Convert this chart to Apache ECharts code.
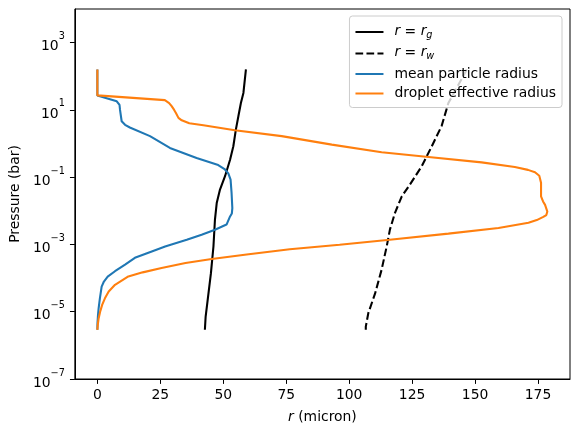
<!DOCTYPE html>
<html><head><meta charset="utf-8">
<script src="https://cdn.jsdelivr.net/npm/echarts@6/dist/echarts.min.js"></script>
<style>html,body{margin:0;padding:0;background:#fff}#c{width:578px;height:434px}</style>
</head><body><div id="c"></div>
<script>
// tick labels
const xTicks = [0, 25, 50, 75, 100, 125, 150, 175];
const yTicks = [1e-7, 1e-5, 1e-3, 1e-1, 1e1, 1e3];
const seriesNames = ['r = r_g', 'r = r_w', 'mean particle radius', 'droplet effective radius'];

// r = r_g (solid black)
const rgRadius   = [59.0, 58.0, 57.0, 56.0, 55.0, 54.0, 52.7, 50.7, 48.7, 47.4, 46.7, 46.1, 45.1, 43.8, 43.0, 42.7];
const rgPressure = [1.6e2, 3.2e1, 1.6e1, 6.5, 2.6, 8.3e-1, 3.3e-1, 1.07e-1, 4.3e-2, 1.7e-2, 5.5e-3, 8.7e-4, 1.4e-4, 2.2e-5, 7.2e-6, 2.9e-6];

// r = r_w (dashed black)
const rwRadius   = [146.7, 144.6, 139.4, 136.7, 132.8, 128.8, 124.1, 120.9, 118.2, 116.2, 114.9, 112.9, 110.3, 107.6, 106.6, 106.6];
const rwPressure = [1.6e2, 8.1e1, 1.6e1, 3.3, 8.3e-1, 2.1e-1, 6.0e-2, 2.7e-2, 8.7e-3, 2.8e-3, 8.7e-4, 1.8e-4, 3.5e-5, 9.1e-6, 3.6e-6, 2.9e-6];

// mean particle radius (blue)
const meanRadius   = [0, 0, 7.7, 8.8, 9.0, 9.65, 11.0, 12.9, 20.9, 28.8, 39.4, 48.0, 50.5, 52.0, 52.9, 53.3, 53.6, 53.4, 52.7, 51.3, 46.7, 41.4, 35.5, 26.9, 21.6, 14.9, 11.0, 7.0, 4.1, 2.6, 1.7, 1.0, 0.5, 0.25, 0.05, 0];
const meanPressure = [1.6e2, 2.7e1, 1.8e1, 1.4e1, 1.0e1, 4.6, 3.6, 3.0, 1.66, 7.4e-1, 3.7e-1, 2.3e-1, 1.75e-1, 1.3e-1, 8.5e-2, 3.4e-2, 1.2e-2, 8.3e-3, 6.8e-3, 3.9e-3, 2.75e-3, 1.95e-3, 1.38e-3, 8.7e-4, 6.2e-4, 4.0e-4, 2.5e-4, 1.6e-4, 1.1e-4, 7.9e-5, 5.6e-5, 2.5e-5, 1.26e-5, 7.9e-6, 4.5e-6, 2.9e-6];

// droplet effective radius (orange)
const dropRadius   = [0, 0, 26.8, 28.5, 29.5, 30.5, 31.2, 32.2, 33.5, 36.5, 42.1, 54.6, 73.2, 93.1, 112.9, 131.5, 152.6, 165.8, 171.0, 173.8, 175.5, 176.2, 176.2, 177.0, 177.8, 178.7, 178.3, 177.1, 174.5, 171.2, 159.3, 139.4, 116.1, 96.2, 76.4, 59.3, 45.4, 35.0, 25.5, 18.0, 12.3, 7.0, 4.5, 3.0, 1.9, 1.1, 0.5, 0.15, 0];
const dropPressure = [1.6e2, 2.7e1, 1.95e1, 1.6e1, 1.29e1, 1.0e1, 8.1, 5.8, 4.9, 4.0, 3.5, 2.5, 1.66, 9.3e-1, 5.5e-1, 4.0e-1, 2.75e-1, 2.0e-1, 1.65e-1, 1.4e-1, 1.1e-1, 6.8e-2, 2.7e-2, 1.9e-2, 1.5e-2, 9.5e-3, 7.5e-3, 6.6e-3, 5.3e-3, 4.4e-3, 3.1e-3, 2.1e-3, 1.38e-3, 9.8e-4, 7.2e-4, 5.0e-4, 3.7e-4, 2.8e-4, 2.0e-4, 1.48e-4, 1.12e-4, 6.3e-5, 4.0e-5, 2.5e-5, 1.6e-5, 1.0e-5, 6.3e-6, 4.0e-6, 2.9e-6];

const pairs = (xs, ys) => xs.map((x, i) => [x, ys[i]]);
const FONT = 'DejaVu Sans';
const FS = 13.9;
const SFS = 9.7;

function supLabel(v) {
  const e = Math.round(Math.log10(v));
  return '{b|10}{s|' + (e < 0 ? '\u2212' + (-e) : e) + '}';
}

const legendMap = {
  'r = r_g': '{i|r} = {j|r}{u|g}',
  'r = r_w': '{i|r} = {j|r}{u|w}',
  'mean particle radius': '{t|mean particle radius}',
  'droplet effective radius': '{t|droplet effective radius}'
};

const chart = echarts.init(document.getElementById('c'), null, {renderer: 'canvas'});
const mk = (name, xs, ys, color, type) => ({
  name, type: 'line', data: pairs(xs, ys), showSymbol: false, symbol: 'none',
  smooth: false, animation: false,
  lineStyle: {color, width: 2.08, type: type || 'solid'}, itemStyle: {color}
});

chart.setOption({
  animation: false,
  backgroundColor: '#fff',
  grid: {left: 73, right: 8, top: 9, bottom: 55, show: true, borderColor: '#000', borderWidth: 1, containLabel: false},
  xAxis: {
    type: 'value', min: -8.94, max: 187.7,
    name: '{i|r} (micron)', nameLocation: 'middle', nameGap: 31,
    nameTextStyle: {fontFamily: FONT, fontSize: FS, color: '#000',
      rich: {i: {fontFamily: FONT, fontStyle: 'italic', fontSize: FS, color: '#000'}}},
    axisLine: {show: true, onZero: false, lineStyle: {color: '#000', width: 1}},
    axisTick: {show: true, length: 4.9, lineStyle: {color: '#000'}, customValues: xTicks},
    axisLabel: {fontFamily: FONT, fontSize: FS, color: '#000', margin: 9.5, customValues: xTicks},
    splitLine: {show: false}
  },
  yAxis: {
    type: 'log', logBase: 10, min: 1e-7, max: 1e4,
    name: 'Pressure (bar)', nameLocation: 'middle', nameGap: 49.5,
    nameTextStyle: {fontFamily: FONT, fontSize: FS, color: '#000'},
    axisLine: {show: true, onZero: false, lineStyle: {color: '#000', width: 1}},
    axisTick: {show: true, length: 4.9, lineStyle: {color: '#000'}, customValues: yTicks},
    axisLabel: {
      fontFamily: FONT, fontSize: FS, color: '#000', margin: 10, customValues: yTicks,
      formatter: supLabel,
      rich: {
        b: {fontFamily: FONT, fontSize: FS, color: '#000', lineHeight: 22, verticalAlign: 'bottom'},
        s: {fontFamily: FONT, fontSize: SFS, color: '#000', lineHeight: 12, verticalAlign: 'top'}
      }
    },
    splitLine: {show: false}, minorTick: {show: false}
  },
  legend: {
    data: seriesNames, orient: 'vertical', right: 16, top: 16,
    backgroundColor: 'rgba(255,255,255,0.8)', borderColor: '#cccccc', borderWidth: 1, borderRadius: 3,
    padding: [8, 6, 7, 5], itemWidth: 28, itemHeight: 14, itemGap: 5.5,
    itemStyle: {opacity: 0},
    formatter: n => legendMap[n],
    textStyle: {fontFamily: FONT, fontSize: FS, color: '#000',
      rich: {
        t: {fontFamily: FONT, fontSize: FS, color: '#000', lineHeight: 16, padding: [0, 0, 0, 6]},
        i: {fontFamily: FONT, fontStyle: 'italic', fontSize: FS, color: '#000', lineHeight: 16, verticalAlign: 'top', padding: [0, 0, 0, 6]},
        j: {fontFamily: FONT, fontStyle: 'italic', fontSize: FS, color: '#000', lineHeight: 16, verticalAlign: 'top'},
        u: {fontFamily: FONT, fontStyle: 'italic', fontSize: SFS, color: '#000', lineHeight: 11, verticalAlign: 'bottom'}
      }}
  },
  series: [
    mk(seriesNames[0], rgRadius, rgPressure, '#000000'),
    mk(seriesNames[1], rwRadius, rwPressure, '#000000', [7.7, 3.3]),
    mk(seriesNames[2], meanRadius, meanPressure, '#1f77b4'),
    mk(seriesNames[3], dropRadius, dropPressure, '#ff7f0e')
  ]
});
</script></body></html>
